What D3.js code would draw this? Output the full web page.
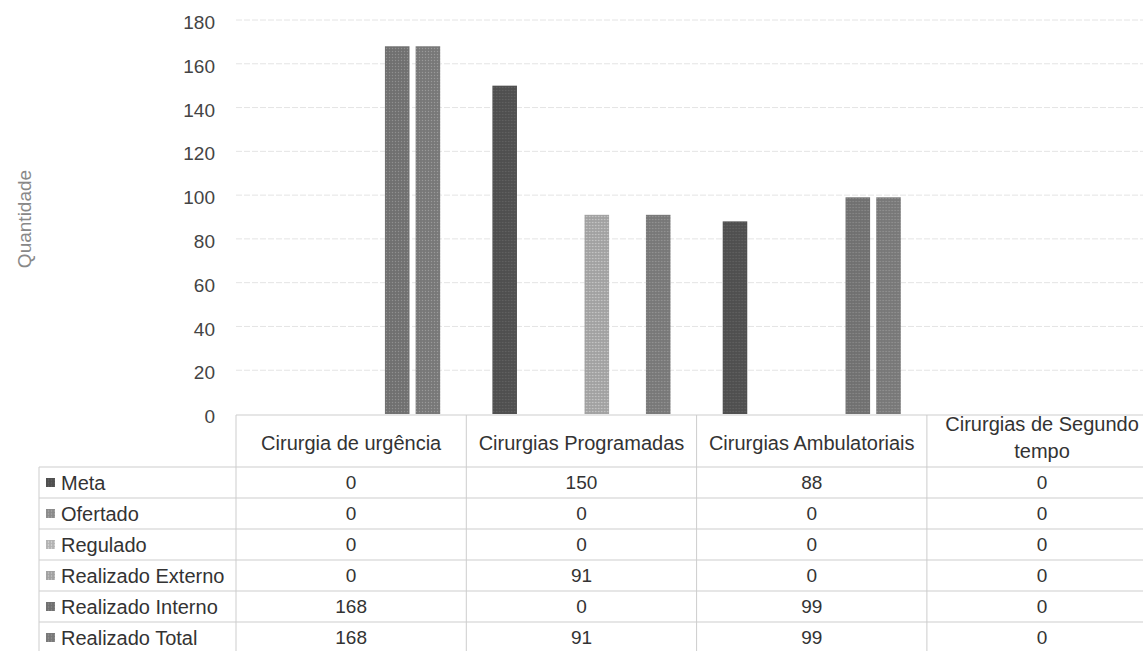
<!DOCTYPE html>
<html><head><meta charset="utf-8">
<script src="https://cdn.jsdelivr.net/npm/d3@7"></script>
<style>
body{margin:0;background:#fff}
svg{display:block}
text{font-family:"Liberation Sans",Arial,sans-serif}
</style>
</head><body>
<svg id="chart" width="1143" height="651"></svg>
<script>
const categories = ["Cirurgia de urgência", "Cirurgias Programadas", "Cirurgias Ambulatoriais", "Cirurgias de Segundo tempo"];
const seriesNames = ["Meta", "Ofertado", "Regulado", "Realizado Externo", "Realizado Interno", "Realizado Total"];
const meta = [0, 150, 88, 0];
const ofertado = [0, 0, 0, 0];
const regulado = [0, 0, 0, 0];
const realizadoExterno = [0, 91, 0, 0];
const realizadoInterno = [168, 0, 99, 0];
const realizadoTotal = [168, 91, 99, 0];
const yTicks = [0, 20, 40, 60, 80, 100, 120, 140, 160, 180];
const yLabel = "Quantidade";
const seriesColors = ["#525252", "#8f8f8f", "#b8b8b8", "#a7a7a7", "#747474", "#7c7c7c"];

const seriesValues = [meta, ofertado, regulado, realizadoExterno, realizadoInterno, realizadoTotal];
const series = seriesNames.map((name, i) => ({name, color: seriesColors[i], values: seriesValues[i], id: "pat" + i}));

const W = 1143, H = 651;
const plotLeft = 236, catStep = 230.3, plotRight = W;
const yBase = 414, yTop = 20;
const svg = d3.select("#chart");

// halftone-like patterns for the scanned look
const defs = svg.append("defs");
series.forEach(s => {
  const p = defs.append("pattern").attr("id", s.id).attr("patternUnits", "userSpaceOnUse")
    .attr("width", 3).attr("height", 3);
  p.append("rect").attr("width", 3).attr("height", 3).attr("fill", s.color);
  p.append("rect").attr("x", 0).attr("y", 0).attr("width", 1).attr("height", 1)
    .attr("fill", d3.color(s.color).brighter(0.6).formatHex());
  p.append("rect").attr("x", 1.5).attr("y", 1.5).attr("width", 1).attr("height", 1)
    .attr("fill", d3.color(s.color).darker(0.4).formatHex());
});

const x0 = d3.scaleBand().domain(categories).range([plotLeft, plotLeft + catStep * categories.length]).padding(0);
const x1 = d3.scaleBand().domain(seriesNames).range([0, x0.bandwidth()]).paddingInner(0.2).paddingOuter(0.85);
const y = d3.scaleLinear().domain([0, 180]).range([yBase, yTop]);

// gridlines
svg.append("g").selectAll("line").data(yTicks.filter(d => d > 0)).join("line")
  .attr("x1", plotLeft).attr("x2", plotRight)
  .attr("y1", d => y(d)).attr("y2", d => y(d))
  .attr("stroke", "#e4e4e4").attr("stroke-width", 1).attr("stroke-dasharray", "6,2");

// y axis labels
const yAxis = svg.append("g").attr("transform", `translate(${plotLeft},0)`)
  .call(d3.axisLeft(y).tickValues(yTicks).tickSize(0).tickPadding(21));
yAxis.select(".domain").remove();
yAxis.selectAll("text").attr("font-size", 19).attr("fill", "#444").attr("dy", "0.45em")
  .style("font-family", '"Liberation Sans", Arial, sans-serif');

svg.append("text")
  .attr("transform", `translate(31,${(yBase + yTop) / 2 + 2}) rotate(-90)`)
  .attr("text-anchor", "middle").attr("font-size", 19).attr("fill", "#888")
  .text(yLabel);

// bars
const catG = svg.append("g").selectAll("g").data(categories).join("g")
  .attr("transform", d => `translate(${x0(d)},0)`);
catG.selectAll("rect")
  .data((c, ci) => series.map(s => ({name: s.name, id: s.id, value: s.values[ci]})).filter(d => d.value > 0))
  .join("rect")
  .attr("x", d => x1(d.name))
  .attr("width", x1.bandwidth())
  .attr("y", d => y(d.value))
  .attr("height", d => y(0) - y(d.value))
  .attr("fill", d => `url(#${d.id})`);

// data table
const lineColor = "#cdcdcd";
const rowTop = 467, rowH = 31, tableLeft = 39;
const tableBottom = rowTop + rowH * series.length;
svg.append("line").attr("x1", plotLeft).attr("x2", plotRight).attr("y1", y(0) + 1).attr("y2", y(0) + 1)
  .attr("stroke", lineColor);
svg.append("g").selectAll("line").data(d3.range(series.length + 1)).join("line")
  .attr("x1", tableLeft).attr("x2", plotRight)
  .attr("y1", i => rowTop + i * rowH).attr("y2", i => rowTop + i * rowH)
  .attr("stroke", lineColor);
svg.append("line").attr("x1", tableLeft).attr("x2", tableLeft).attr("y1", rowTop).attr("y2", tableBottom).attr("stroke", lineColor);
svg.append("g").selectAll("line").data(categories).join("line")
  .attr("x1", d => x0(d)).attr("x2", d => x0(d))
  .attr("y1", y(0) + 1).attr("y2", tableBottom)
  .attr("stroke", lineColor);

// headers
const headerG = svg.append("g").selectAll("text").data(categories).join("text")
  .attr("x", d => x0(d) + x0.bandwidth() / 2)
  .attr("text-anchor", "middle").attr("font-size", 20).attr("fill", "#333");
headerG.each(function(d) {
  const t = d3.select(this);
  const words = d.split(" ");
  const maxW = x0.bandwidth() - 12;
  const lines = [];
  let cur = [];
  const probe = t.append("tspan");
  words.forEach(w => {
    const test = cur.concat([w]).join(" ");
    probe.text(test);
    if (probe.node().getComputedTextLength() > maxW && cur.length) { lines.push(cur.join(" ")); cur = [w]; }
    else cur.push(w);
  });
  lines.push(cur.join(" "));
  probe.remove();
  const midY = lines.length > 1 ? 437 : 443;
  const lh = 27;
  lines.forEach((ln, i) => {
    t.append("tspan").attr("x", x0(d) + x0.bandwidth() / 2)
      .attr("y", midY + (i - (lines.length - 1) / 2) * lh)
      .attr("dy", "0.35em").text(ln);
  });
});

// row labels with markers and values
const rows = svg.append("g").selectAll("g").data(series).join("g")
  .attr("transform", (d, i) => `translate(0,${rowTop + i * rowH + rowH / 2})`);
rows.append("rect").attr("x", 46).attr("y", -4.5).attr("width", 9).attr("height", 9).attr("fill", d => `url(#${d.id})`);
rows.append("text").attr("x", 61).attr("dy", "0.36em").attr("font-size", 20).attr("fill", "#333").text(d => d.name);
rows.selectAll("text.val").data(d => d.values.map((v, ci) => ({v, c: categories[ci]}))).join("text")
  .attr("class", "val")
  .attr("x", d => x0(d.c) + x0.bandwidth() / 2)
  .attr("dy", "0.36em").attr("text-anchor", "middle").attr("font-size", 19).attr("fill", "#333")
  .text(d => d.v);
</script>
</body></html>
